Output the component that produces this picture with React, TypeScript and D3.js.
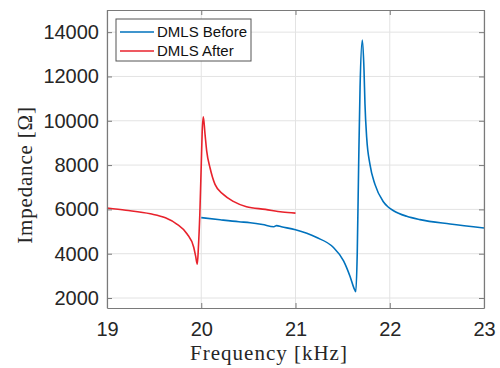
import React, { useEffect, useRef } from 'react';
import * as d3 from 'd3';

// DMLS Before (blue) - frequency [kHz], impedance [Ohm]
const beforeFreq = [20.0, 20.2, 20.4, 20.52, 20.65, 20.77, 20.8, 20.85, 21.0, 21.22, 21.4, 21.51, 21.58, 21.62, 21.64, 21.655, 21.67, 21.685, 21.709, 21.727, 21.737, 21.755, 21.79, 21.843, 21.93, 21.98, 22.04, 22.18, 22.32, 22.64, 23.0];
const beforeVal = [5630, 5530, 5440, 5400, 5320, 5220, 5270, 5220, 5080, 4740, 4290, 3680, 2960, 2450, 2285, 4000, 8000, 11500, 13640, 12280, 10770, 9260, 8030, 7130, 6360, 6120, 5940, 5690, 5540, 5340, 5160];

// DMLS After (red)
const afterFreq = [19.0, 19.2, 19.46, 19.62, 19.74, 19.85, 19.92, 19.94, 19.958, 19.97, 19.985, 20.0, 20.01, 20.022, 20.04, 20.058, 20.093, 20.146, 20.234, 20.34, 20.48, 20.68, 20.86, 21.0];
const afterVal = [6060, 5960, 5800, 5620, 5340, 4890, 4290, 3900, 3530, 4300, 5800, 8000, 9500, 10180, 9400, 8630, 7880, 7130, 6680, 6360, 6120, 6000, 5880, 5830];

const xTicks = [19, 20, 21, 22, 23];
const yTicks = [2000, 4000, 6000, 8000, 10000, 12000, 14000];
const seriesNames = ['DMLS Before', 'DMLS After'];
const seriesColors = ['#0072BD', '#E8222C'];

const App = () => {
  const svgRef = useRef<SVGSVGElement>(null);

  useEffect(() => {
    const root = d3.select(svgRef.current);
    root.selectAll('*').remove();

    const margin = { top: 10, right: 16, bottom: 60, left: 107 };
    const W = 500, H = 368;
    const width = W - margin.left - margin.right;
    const height = H - margin.top - margin.bottom;

    const svg = root.append('g').attr('transform', `translate(${margin.left},${margin.top})`);

    const x = d3.scaleLinear().domain([19, 23]).range([0, width]);
    const y = d3.scaleLinear().domain([1550, 15000]).range([height, 0]);

    // grid
    svg.append('g').selectAll('line').data(xTicks).enter().append('line')
      .attr('x1', d => x(d)).attr('x2', d => x(d)).attr('y1', 0).attr('y2', height)
      .attr('stroke', '#e3e3e3').attr('stroke-width', 1);
    svg.append('g').selectAll('line').data(yTicks).enter().append('line')
      .attr('y1', d => y(d)).attr('y2', d => y(d)).attr('x1', 0).attr('x2', width)
      .attr('stroke', '#e3e3e3').attr('stroke-width', 1);

    // lines
    const line = d3.line<[number, number]>()
      .x(d => x(d[0]))
      .y(d => y(d[1]))
      .curve(d3.curveMonotoneX);

    const before = beforeFreq.map((f, i) => [f, beforeVal[i]] as [number, number]);
    const after = afterFreq.map((f, i) => [f, afterVal[i]] as [number, number]);

    [before, after].forEach((data, i) => {
      svg.append('path')
        .datum(data)
        .attr('fill', 'none')
        .attr('stroke', seriesColors[i])
        .attr('stroke-width', 1.6)
        .attr('stroke-linejoin', 'round')
        .attr('d', line);
    });

    // axes (box, ticks inward on all sides)
    const axisColor = '#7a7a7a';
    const font = '"Liberation Sans", Arial, sans-serif';
    const bottom = svg.append('g').attr('transform', `translate(0,${height})`)
      .call(d3.axisBottom(x).tickValues(xTicks).tickSizeInner(-5).tickSizeOuter(0).tickPadding(14).tickFormat(d3.format('d')));
    const left = svg.append('g')
      .call(d3.axisLeft(y).tickValues(yTicks).tickSizeInner(-5).tickSizeOuter(0).tickPadding(8).tickFormat(d3.format('d')));
    const top = svg.append('g')
      .call(d3.axisTop(x).tickValues(xTicks).tickSizeInner(-5).tickSizeOuter(0).tickFormat(() => ''));
    const right = svg.append('g').attr('transform', `translate(${width},0)`)
      .call(d3.axisRight(y).tickValues(yTicks).tickSizeInner(-5).tickSizeOuter(0).tickFormat(() => ''));

    [bottom, left, top, right].forEach(a => {
      a.select('.domain').attr('stroke', axisColor).attr('stroke-width', 1.2);
      a.selectAll('.tick line').attr('stroke', axisColor);
      a.selectAll('.tick text').attr('fill', '#262626').style('font-family', font).style('font-size', '20px');
    });

    // axis labels
    const serif = '"Liberation Serif", "DejaVu Serif", serif';
    svg.append('text')
      .attr('x', 269 - margin.left)
      .attr('y', height + 52)
      .attr('text-anchor', 'middle')
      .style('font-family', serif)
      .style('font-size', '21px')
      .style('letter-spacing', '1px')
      .attr('fill', '#262626')
      .text('Frequency [kHz]');

    svg.append('text')
      .attr('transform', `translate(${-75},${165}) rotate(-90)`)
      .attr('text-anchor', 'middle')
      .style('font-family', serif)
      .style('font-size', '21px')
      .style('letter-spacing', '0.8px')
      .attr('fill', '#262626')
      .text('Impedance [Ω]');

    // legend
    const lg = svg.append('g').attr('transform', `translate(${116 - margin.left},${19 - margin.top})`);
    lg.append('rect')
      .attr('width', 135).attr('height', 42)
      .attr('fill', '#fff').attr('stroke', '#555').attr('stroke-width', 1);
    const item = lg.selectAll('g.item').data(seriesNames).enter().append('g')
      .attr('class', 'item')
      .attr('transform', (d, i) => `translate(0,${13 + i * 19})`);
    item.append('line')
      .attr('x1', 4).attr('x2', 38).attr('y1', 0).attr('y2', 0)
      .attr('stroke', (d, i) => seriesColors[i]).attr('stroke-width', 1.6);
    item.append('text')
      .attr('x', 41).attr('y', 5)
      .style('font-family', font).style('font-size', '15px')
      .attr('fill', '#111')
      .text(d => d);
  }, []);

  return (
    <div style={{ position: 'absolute', left: 0, top: 0 }}>
      <svg ref={svgRef} width={500} height={368} style={{ display: 'block', background: '#fff' }}></svg>
    </div>
  );
};

export default App;
